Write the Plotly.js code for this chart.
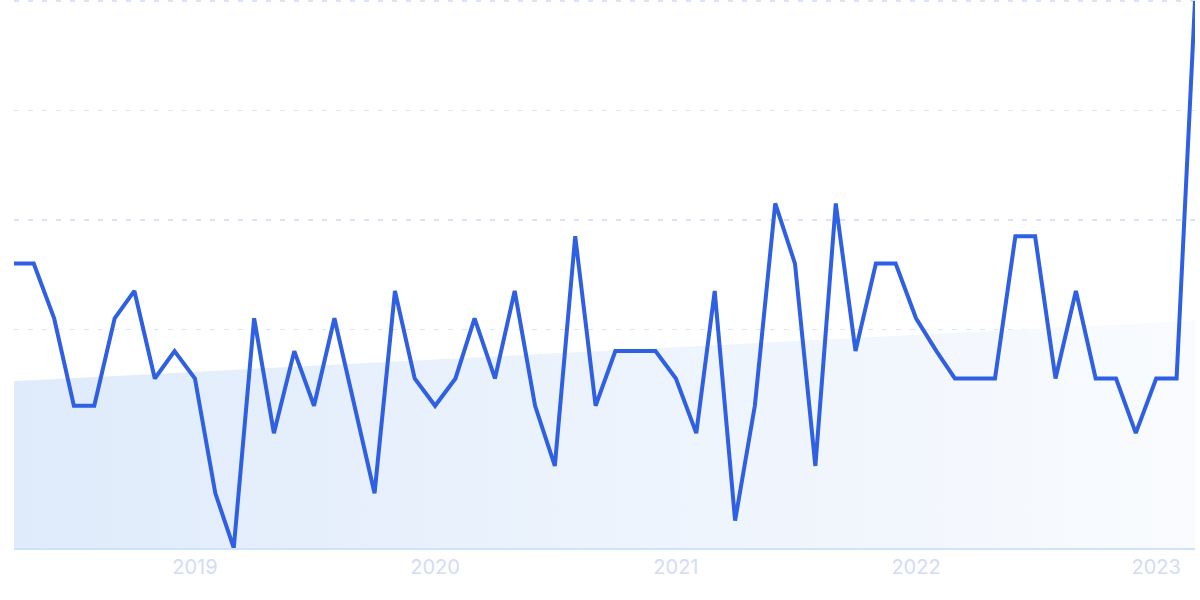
<!DOCTYPE html>
<html>
<head>
<meta charset="utf-8">
<script src="https://cdn.plot.ly/plotly-3.0.1.min.js"></script>
<style>html,body{margin:0;padding:0;background:#fff;}#chart{width:1200px;height:600px;}</style>
</head>
<body>
<div id="chart"></div>
<script>
// Monthly dates 2018-04 .. 2023-03
const months = [
 "2018-04-01","2018-05-01","2018-06-01","2018-07-01","2018-08-01","2018-09-01","2018-10-01","2018-11-01","2018-12-01",
 "2019-01-01","2019-02-01","2019-03-01","2019-04-01","2019-05-01","2019-06-01","2019-07-01","2019-08-01","2019-09-01","2019-10-01","2019-11-01","2019-12-01",
 "2020-01-01","2020-02-01","2020-03-01","2020-04-01","2020-05-01","2020-06-01","2020-07-01","2020-08-01","2020-09-01","2020-10-01","2020-11-01","2020-12-01",
 "2021-01-01","2021-02-01","2021-03-01","2021-04-01","2021-05-01","2021-06-01","2021-07-01","2021-08-01","2021-09-01","2021-10-01","2021-11-01","2021-12-01",
 "2022-01-01","2022-02-01","2022-03-01","2022-04-01","2022-05-01","2022-06-01","2022-07-01","2022-08-01","2022-09-01","2022-10-01","2022-11-01","2022-12-01",
 "2023-01-01","2023-02-01","2023-03-01"
];
const interest = [
 52,52,42,26,26,42,47,31,36,
 31,10,0,42,21,36,26,42,26,10,47,31,
 26,31,42,31,47,26,15,57,26,36,36,36,
 31,21,47,5,26,63,52,15,63,36,52,52,
 42,36,31,31,31,57,57,31,47,31,31,21,
 31,31,100
];
// Trend line endpoints
const trendDates = ["2018-04-01","2023-03-01"];
const trendValues = [30.5, 41.6];
const yearTicks = ["2019-01-01","2020-01-01","2021-01-01","2022-01-01","2023-01-01"];
const yearLabels = ["2019","2020","2021","2022","2023"];

const traces = [
 {
  x: trendDates, y: trendValues, type: "scatter", mode: "lines",
  line: {width: 0, color: "rgba(0,0,0,0)"},
  fill: "tozeroy",
  fillcolor: "#e2edfb",
  fillgradient: {type: "horizontal", colorscale: [[0, "#dfebfb"], [1, "#f9fbfe"]]},
  hoverinfo: "skip", showlegend: false
 },
 {
  x: months, y: interest, type: "scatter", mode: "lines",
  line: {color: "#2f5fe3", width: 4, shape: "linear"},
  showlegend: false, cliponaxis: true
 }
];

const layout = {
 width: 1200, height: 600,
 margin: {l: 14, r: 5, t: 0, b: 52},
 paper_bgcolor: "#ffffff", plot_bgcolor: "#ffffff",
 showlegend: false,
 xaxis: {
  type: "date",
  range: ["2018-04-01", "2023-03-01"],
  tickvals: yearTicks, ticktext: yearLabels,
  showgrid: false, zeroline: false,
  showline: true, linecolor: "#cfe4fb", linewidth: 1.5,
  ticks: "", ticklen: 0,
  tickfont: {family: "Inter, 'Noto Sans', sans-serif", size: 20, color: "#d3dcf4"},
  fixedrange: true
 },
 yaxis: {
  range: [0, 100.2],
  dtick: 20, tick0: 0,
  showgrid: true, gridcolor: "#d9e4f8", gridwidth: 1.3, griddash: "5px,9px",
  zeroline: false, showticklabels: false, showline: false,
  fixedrange: true
 }
};

Plotly.newPlot("chart", traces, layout, {staticPlot: true, displayModeBar: false});
</script>
</body>
</html>
